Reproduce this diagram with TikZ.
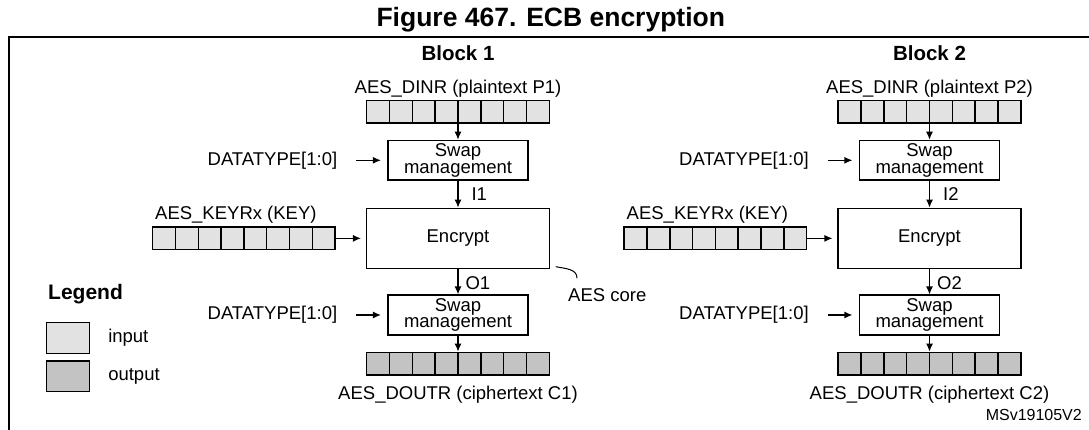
\documentclass[tikz,border=0pt]{standalone}
\usepackage{fontspec}
\setmainfont{Liberation Sans}
\usetikzlibrary{arrows.meta, positioning}
\definecolor{ingray}{RGB}{226,226,226}
\definecolor{outgray}{RGB}{195,195,195}

\tikzset{
  txt/.style={font=\fontsize{18.5pt}{15pt}\selectfont, inner sep=0pt},
  hdr/.style={font=\fontsize{20.5pt}{20.5pt}\selectfont\bfseries, inner sep=0pt},
  reg/.style={draw, line width=1.5pt, minimum width=182.6pt, minimum height=22.6pt, inner sep=0pt,
    path picture={\foreach \c in {1,...,7}
      \draw[line width=1.5pt] ([xshift=\c*22.825pt]path picture bounding box.north west)
        -- ([xshift=\c*22.825pt]path picture bounding box.south west);}},
  swapbox/.style={txt, draw, line width=1.5pt, minimum width=139.7pt, minimum height=39.7pt, align=center},
  encbox/.style={txt, draw, line width=1.5pt, minimum width=182.6pt, minimum height=60pt},
  swatch/.style={draw, line width=1.5pt, minimum width=42.6pt, minimum height=30.6pt, inner sep=0pt},
  flow/.style={-{Latex[length=8pt,width=7pt]}, line width=1.2pt},
}

\begin{document}
\begin{tikzpicture}[x=1pt, y=-1pt]
  \useasboundingbox (0,0) rectangle (1089,430);
  \node[font=\fontsize{26.5pt}{26.5pt}\selectfont\bfseries, inner sep=0pt, anchor=base] (title) at (550.8,27) {Figure 467. ECB encryption};
  \draw[line width=1.8pt] (9,430) -- (9,37) -- (1089,37);

  % the two blocks
  \foreach \bn/\cx in {1/458, 2/929.5}{
    \node[hdr, anchor=base] (blk\bn) at (\cx,60.3) {Block \bn};
    \node[reg, fill=ingray] (dinr\bn) at (\cx,111.65) {};
    \node[txt, above=2.5pt of dinr\bn] (dinrlbl\bn) {AES\_DINR (plaintext P\bn)};
    \node[swapbox, below=16pt of dinr\bn] (swapin\bn) {Swap\\management};
    \node[encbox, below=26.7pt of swapin\bn] (enc\bn) {Encrypt};
    \node[swapbox, below=25.3pt of enc\bn] (swapout\bn) {Swap\\management};
    \node[reg, fill=outgray, below=16pt of swapout\bn] (doutr\bn) {};
    \node[txt, below=10pt of doutr\bn] (doutrlbl\bn) {AES\_DOUTR (ciphertext C\bn)};
    \node[reg, fill=ingray, left=30pt of enc\bn] (key\bn) {};
    \node[txt, above=2.6pt of key\bn, xshift=-8pt] (keylbl\bn) {AES\_KEYRx (KEY)};
    \node[txt, left=50pt of swapin\bn] (dtin\bn) {DATATYPE[1:0]};
    \node[txt, left=50pt of swapout\bn] (dtout\bn) {DATATYPE[1:0]};
    % data path
    \draw[flow] (dinr\bn) -- (swapin\bn);
    \draw[flow] (swapin\bn) -- node[txt, right, xshift=13pt] {I\bn} (enc\bn);
    \draw[flow] (enc\bn) -- node[txt, right, xshift=7pt, yshift=-1.6pt] {O\bn} (swapout\bn);
    \draw[flow] (swapout\bn) -- (doutr\bn);
    \draw[flow, shorten >=5pt] (key\bn) -- (enc\bn);
    \draw[flow, shorten <=19pt, shorten >=6.5pt] (dtin\bn) -- (swapin\bn);
    \draw[flow, shorten <=19pt, shorten >=6.5pt] (dtout\bn) -- (swapout\bn);
  }

  % AES core callout
  \node[txt, anchor=west] (core) at (568,295) {AES core};
  \coordinate (corea) at ([xshift=5.7pt, yshift=2.4pt]enc1.south east);
  \coordinate (coreb) at ([xshift=9pt, yshift=10pt]core.north west);
  \draw[line width=1pt] (corea) .. controls +(11,2) and +(0,-9) .. (coreb);

  % legend
  \node[font=\fontsize{21pt}{21pt}\selectfont\bfseries, inner sep=0pt, anchor=west] (legend) at (48,294) {Legend};
  \node[swatch, fill=ingray] (inkey) at (68,338) {};
  \node[swatch, fill=outgray] (outkey) at (68,376.2) {};
  \node[txt, right=18pt of inkey] (inlbl) {input};
  \node[txt, right=18pt of outkey] (outlbl) {output};

  \node[txt, font=\fontsize{16pt}{16pt}\selectfont, anchor=east] (refno) at (1082,415) {MSv19105V2};
\end{tikzpicture}
\end{document}
